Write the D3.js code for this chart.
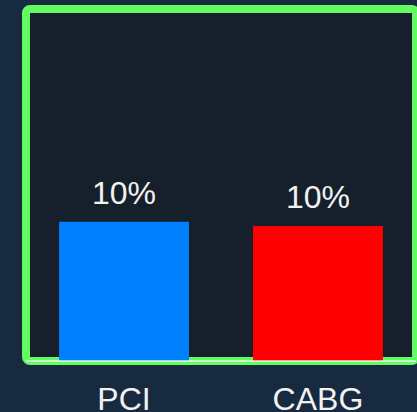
<!DOCTYPE html>
<html>
<head>
<meta charset="utf-8">
<script src="https://cdn.jsdelivr.net/npm/d3@7"></script>
<style>
  html, body { margin: 0; padding: 0; background: #172a40; }
  svg { display: block; }
</style>
</head>
<body>
<script>
// Procedure categories and their rates (%)
const categories = ["PCI", "CABG"];
const values = [10.0, 9.7];
const colors = ["#0080ff", "#ff0000"];
const yDomain = [0, 25];

const W = 417, H = 412;
const svg = d3.select("body").append("svg").attr("width", W).attr("height", H);

svg.append("rect").attr("width", W).attr("height", H).attr("fill", "#172a40");

// Framed plot panel
const frame = { x: 26, y: 9, w: 390, h: 352 };
svg.append("rect")
  .attr("x", frame.x).attr("y", frame.y)
  .attr("width", frame.w).attr("height", frame.h)
  .attr("rx", 4)
  .attr("fill", "#161f2c")
  .attr("stroke", "#62fc62")
  .attr("stroke-width", 8);

const x = d3.scaleBand()
  .domain(categories)
  .range([30, 412])
  .paddingInner(0.33)
  .paddingOuter(0.15);

const y = d3.scaleLinear().domain(yDomain).range([361, 13]);

const data = categories.map((c, i) => ({ cat: c, v: values[i], color: colors[i] }));

svg.selectAll("rect.bar").data(data).join("rect")
  .attr("class", "bar")
  .attr("x", d => x(d.cat))
  .attr("width", x.bandwidth())
  .attr("y", d => y(d.v))
  .attr("height", d => y(0) - y(d.v))
  .attr("fill", d => d.color);

// Baseline
svg.append("line")
  .attr("x1", frame.x).attr("x2", frame.x + frame.w)
  .attr("y1", y(0)).attr("y2", y(0))
  .attr("stroke", "#ffffff").attr("stroke-opacity", 0.85)
  .attr("stroke-width", 1.5);

const fmt = d3.format(".0f");
svg.selectAll("text.val").data(data).join("text")
  .attr("class", "val")
  .attr("x", d => x(d.cat) + x.bandwidth() / 2)
  .attr("y", d => y(d.v) - 17.5)
  .attr("text-anchor", "middle")
  .attr("font-family", "Liberation Sans, Arial, sans-serif")
  .attr("font-size", 32)
  .attr("fill", "#f2f2f2")
  .text(d => fmt(d.v) + "%");

// Category axis labels
const xAxis = svg.append("g")
  .attr("transform", `translate(0, ${y(0)})`)
  .call(d3.axisBottom(x).tickSize(0).tickPadding(26));
xAxis.select(".domain").remove();
xAxis.selectAll("text")
  .attr("font-family", "Liberation Sans, Arial, sans-serif")
  .attr("font-size", 32)
  .attr("fill", "#f2f2f2")
  .attr("dy", "0.71em");
</script>
</body>
</html>
